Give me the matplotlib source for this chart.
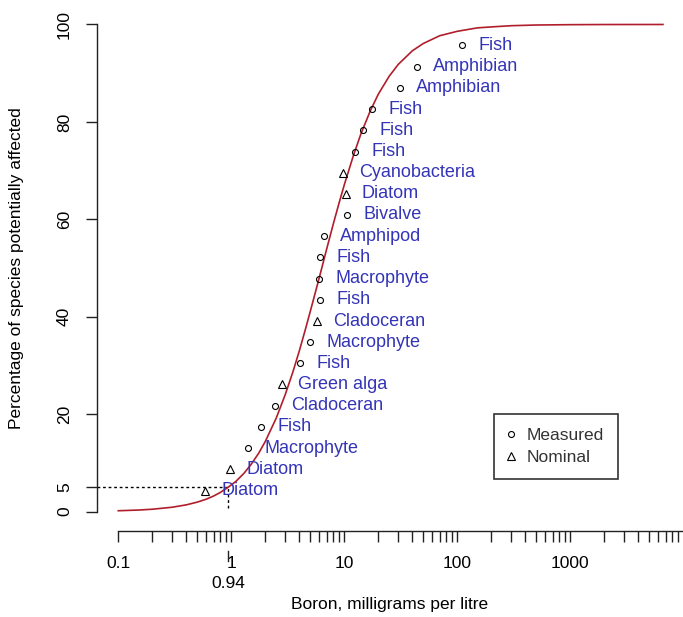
import matplotlib
matplotlib.use("Agg")
import matplotlib.pyplot as plt
import matplotlib.transforms as mtransforms
from matplotlib.lines import Line2D

plt.rcParams['font.family'] = ['Liberation Sans', 'DejaVu Sans']

# toxicity data (mg/L and plotting position %)
conc = [0.59, 0.98, 1.41, 1.84, 2.45, 2.83, 4.08, 5.0, 5.77, 6.1, 6.0, 6.1, 6.6,
        10.6, 10.3, 9.8, 12.5, 14.7, 17.7, 31.0, 44.0, 111.0]
pct = [4.3, 8.7, 13.0, 17.4, 21.7, 26.1, 30.4, 34.8, 39.1, 43.5, 47.8, 52.2, 56.5,
       60.9, 65.2, 69.6, 73.9, 78.3, 82.6, 87.0, 91.3, 95.7]
species = ['Diatom', 'Diatom', 'Macrophyte', 'Fish', 'Cladoceran', 'Green alga', 'Fish',
           'Macrophyte', 'Cladoceran', 'Fish', 'Macrophyte', 'Fish', 'Amphipod', 'Bivalve',
           'Diatom', 'Cyanobacteria', 'Fish', 'Fish', 'Fish', 'Amphibian', 'Amphibian', 'Fish']
kind = ['Nominal', 'Nominal', 'Measured', 'Measured', 'Measured', 'Nominal', 'Measured',
        'Measured', 'Nominal', 'Measured', 'Measured', 'Measured', 'Measured', 'Measured',
        'Nominal', 'Nominal', 'Measured', 'Measured', 'Measured', 'Measured', 'Measured', 'Measured']

# fitted distribution curve
curve_x = [0.1, 0.15, 0.2, 0.3, 0.4, 0.5, 0.6, 0.7, 0.8, 0.94, 1.1, 1.3, 1.5, 1.75, 2, 2.5,
           3, 3.5, 4, 4.5, 5, 5.5, 6, 6.5, 7, 8, 9, 10, 12, 14, 17, 20, 25, 30, 40, 50,
           70, 100, 150, 200, 300, 500, 1000, 2000, 6600]
curve_y = [0.16, 0.3, 0.47, 0.88, 1.37, 1.93, 2.53, 3.2, 3.92, 5.0, 6.2, 7.9, 9.7, 12.0, 14.4,
           19.2, 24.0, 28.6, 33.0, 37.2, 41.1, 44.7, 48.0, 51.1, 54.0, 59.1, 63.4, 67.1, 73.0,
           77.5, 82.3, 85.7, 89.4, 91.8, 94.6, 96.1, 97.7, 98.6, 99.3, 99.5, 99.75, 99.89,
           99.96, 99.99, 100.0]

hc5 = 0.94
hc_pct = 5
xtick_labels = ['0.1', '1', '10', '100', '1000']

label_col = '#3434b8'
curve_col = '#b01e2c'

fig = plt.figure(figsize=(6.83, 6.17), dpi=100)
ax = fig.add_axes([97 / 683, 86 / 617, 586 / 683, 526 / 617])
ax.set_xscale('log')
ax.set_xlim(0.0648, 9930)
ax.set_ylim(-4, 104)

ax.plot(curve_x, curve_y, color=curve_col, lw=1.2, zorder=2)

for k, mk, ms in [('Measured', 'o', 4.3), ('Nominal', '^', 6)]:
    xs = [c for c, t in zip(conc, kind) if t == k]
    ys = [p for p, t in zip(pct, kind) if t == k]
    ax.plot(xs, ys, linestyle='none', marker=mk, ms=ms, mfc='none', mec='black',
            mew=0.8, zorder=3)

for c, p, s in zip(conc, pct, species):
    ax.annotate(s, (c, p), xytext=(11.5, 0), textcoords='offset points',
                ha='left', va='center', fontsize=13, color=label_col, zorder=4)

# HC5 guide lines
ax.plot([ax.get_xlim()[0], hc5], [hc_pct, hc_pct], color='black', lw=1,
        linestyle=(0, (2, 2)), zorder=1)
ax.plot([hc5, hc5], [0.8, hc_pct], color='black', lw=1, linestyle=(0, (2, 2)), zorder=1)

# R style detached axes
for sp in ['top', 'right']:
    ax.spines[sp].set_visible(False)
ax.spines['left'].set_bounds(0, 100)
ax.spines['bottom'].set_bounds(0.1, 9930)
for sp in ['left', 'bottom']:
    ax.spines[sp].set_linewidth(1)
    ax.spines[sp].set_color('#222222')

xt = []
xl = []
dec = 0.1
i = 0
while dec < 10000:
    for m in range(1, 10):
        xt.append(dec * m)
        xl.append(xtick_labels[i] if (m == 1 and i < len(xtick_labels)) else '')
    dec *= 10
    i += 1
ax.set_xticks(xt)
ax.set_xticklabels(xl)
ax.xaxis.set_minor_locator(matplotlib.ticker.NullLocator())
ax.tick_params(axis='x', direction='out', length=8, width=1, pad=10, labelsize=12.5,
               color='#222222')

ax.set_yticks([0, 5, 20, 40, 60, 80, 100])
ax.set_yticklabels(['0', '5', '20', '40', '60', '80', '100'], rotation=90, va='center')
ax.tick_params(axis='y', direction='out', length=8, width=1, pad=10, labelsize=12.5,
               color='#222222')

# extra axis mark for 0.94, one line lower
trans = mtransforms.blended_transform_factory(ax.transData, ax.transAxes)
ax.plot([hc5, hc5], [-0.038, -0.057], transform=trans, color='#222222', lw=1,
        clip_on=False)
ax.text(hc5, -0.099, '0.94', transform=trans, ha='center', va='center', fontsize=12.5)

fig.text(390 / 683, 1 - 605 / 617, 'Boron, milligrams per litre', ha='center',
         va='center', fontsize=12.5)
fig.text(17 / 683, 1 - 268 / 617, 'Percentage of species potentially affected',
         rotation=90, ha='center', va='center', fontsize=12.5)

handles = [Line2D([], [], linestyle='none', marker='o', ms=4.3, mfc='none', mec='black', mew=0.8),
           Line2D([], [], linestyle='none', marker='^', ms=6, mfc='none', mec='black', mew=0.8)]
leg = ax.legend(handles, ['Measured', 'Nominal'], loc='upper left',
                bbox_to_anchor=(494 / 683, 1 - 414 / 617), bbox_transform=fig.transFigure,
                borderaxespad=0, fancybox=False, framealpha=1, edgecolor='#333333',
                fontsize=12.5, handlelength=0.4, handletextpad=0.7, labelspacing=0.4,
                borderpad=0.8)
leg.get_frame().set_linewidth(1.2)
for t in leg.get_texts():
    t.set_color('#333333')

fig.savefig('out.png', dpi=100)
